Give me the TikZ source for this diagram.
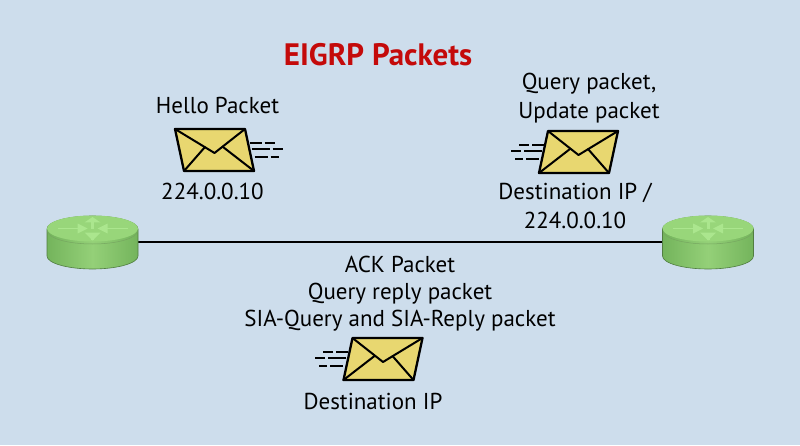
\documentclass[tikz,border=0pt]{standalone}
\usepackage{fontspec}
\setmainfont{PT Sans}
\newfontfamily\titlefont{PT Sans}
\definecolor{bgblue}{HTML}{CDDDEC}
\definecolor{envfill}{HTML}{E8D770}
\definecolor{titlered}{HTML}{C40A0A}
\definecolor{rtop}{HTML}{98D67A}
\definecolor{rdark}{HTML}{74B45C}
\definecolor{rlight}{HTML}{94D078}
\definecolor{rarrow}{HTML}{ABE68E}
\tikzset{
    label text/.style={font=\fontsize{23}{27}\selectfont, align=center, inner sep=0pt, text=black},
    speed line/.style={line width=1.5pt, black},
    router/.pic={
        % body
        \draw[rdark!70!black, line width=0.6pt, left color=rdark, right color=rdark, middle color=rlight]
            (-45.5,13) -- (-45.5,-14) arc[start angle=180, end angle=360, x radius=45.5, y radius=13] -- (45.5,13)
            arc[start angle=0, end angle=180, x radius=45.5, y radius=13] -- cycle;
        % top
        \fill[rtop] (0,13.5) ellipse[x radius=45.5, y radius=13];
        \draw[rlight!80!black, line width=0.5pt] (-45,11) arc[start angle=180, end angle=360, x radius=45, y radius=13];
        % arrows on top
        \draw[rarrow, line width=1.8pt] (-35,13.5) -- (-12,13.5);
        \draw[rarrow, line width=1.8pt] (35,13.5) -- (12,13.5);
        \draw[rarrow, line width=3pt] (0,20) -- (0,13);
        \draw[rarrow, line width=3pt] (0,9) -- (0,2);
        \fill[rarrow] (-8,19.5) -- (8,19.5) -- (0,25) -- cycle;
        \fill[rarrow] (-8,9.5) -- (8,9.5) -- (0,1.5) -- cycle;
        \fill[rarrow] (-15,18.5) -- (-15,8.5) -- (-5,13.5) -- cycle;
        \fill[rarrow] (15,18.5) -- (15,8.5) -- (5,13.5) -- cycle;
    },
    envelope/.pic={
        % speed lines behind the body
        \draw[speed line] (35,7) -- (47,7) (50,7) -- (60,7);
        \draw[speed line] (37,1) -- (55,1) (58,1) -- (68,1);
        \draw[speed line] (40,-7) -- (53,-7) (56,-7) -- (64,-7);
        % body
        \draw[line width=2.3pt, line join=round, fill=envfill] (-39.5,21) -- (30.5,21) -- (39.5,-21) -- (-30.5,-21) -- cycle;
        \draw[line width=2pt, line join=round] (-39.5,21) -- (0,-3) -- (30.5,21);
        \draw[line width=2pt, line cap=round] (-30.5,-21) -- (-9.5,3);
        \draw[line width=2pt, line cap=round] (39.5,-21) -- (8.5,3);
    }
}
\begin{document}
\begin{tikzpicture}[x=1pt, y=1pt]
    \fill[bgblue] (0,0) rectangle (800,445);
    \useasboundingbox (0,0) rectangle (800,445);

    % Title
    \node[font=\titlefont\bfseries\fontsize{31}{36}\selectfont, text=titlered, inner sep=0pt] (title) at (378,390) {EIGRP Packets};

    % Routers and link
    \node[minimum width=91pt, minimum height=53pt, inner sep=0pt] (routerA) at (92.5,203) {};
    \node[minimum width=91pt, minimum height=53pt, inner sep=0pt] (routerB) at (708,203) {};
    \draw[line width=2.5pt] (routerA.east) -- (routerB.west);
    \pic at (routerA) {router};
    \pic at (routerB) {router};

    % Hello packet
    \node[label text] (hello) at (217.5,340) {Hello Packet};
    \pic at (214.5,295) {envelope};
    \node[label text] (helloip) at (212.5,254) {224.0.0.10};

    % Query and update
    \node[label text, font=\fontsize{23}{29}\selectfont] (query) at (589,347) {Query packet,\\Update packet};
    \pic[xscale=-1] at (578.5,293) {envelope};
    \node[label text, font=\fontsize{23}{29}\selectfont] (queryip) at (575,239) {Destination IP /\\224.0.0.10};

    % ACK group
    \node[label text] (ack) at (400,151.5) {ACK Packet\\Query reply packet\\SIA-Query and SIA-Reply packet};
    \pic[xscale=-1] at (383,86) {envelope};
    \node[label text] (ackip) at (373,44) {Destination IP};
\end{tikzpicture}
\end{document}
